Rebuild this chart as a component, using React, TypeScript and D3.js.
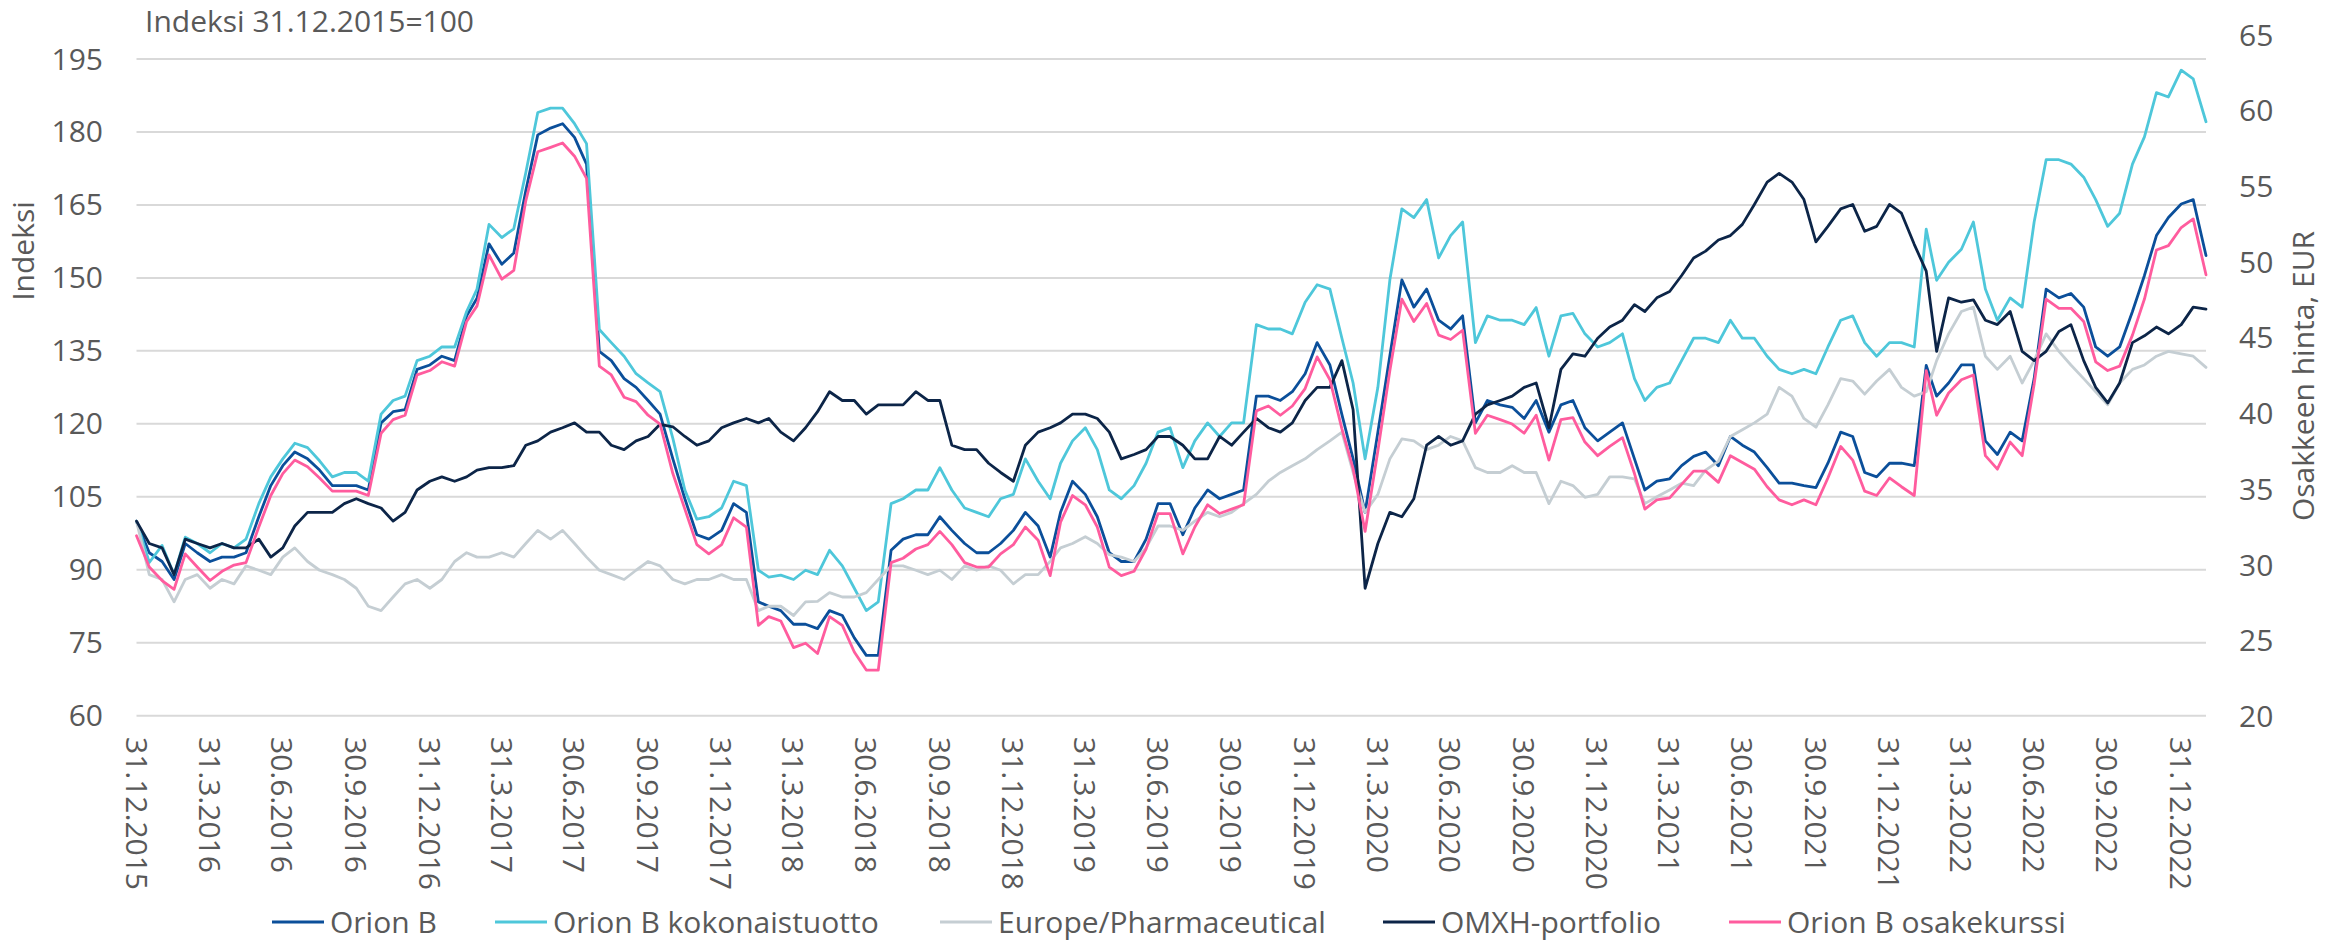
import React from 'react';
import * as d3 from 'd3';

const W = 2348;
const H = 942;

const xTickLabels = [
  '31.12.2015', '31.3.2016', '30.6.2016', '30.9.2016', '31.12.2016',
  '31.3.2017', '30.6.2017', '30.9.2017', '31.12.2017',
  '31.3.2018', '30.6.2018', '30.9.2018', '31.12.2018',
  '31.3.2019', '30.6.2019', '30.9.2019', '31.12.2019',
  '31.3.2020', '30.6.2020', '30.9.2020', '31.12.2020',
  '31.3.2021', '30.6.2021', '30.9.2021', '31.12.2021',
  '31.3.2022', '30.6.2022', '30.9.2022', '31.12.2022',
];
const leftTicks = [60, 75, 90, 105, 120, 135, 150, 165, 180, 195];
const rightTicks = [20, 25, 30, 35, 40, 45, 50, 55, 60, 65];

// Sampling dates: 31.12.2015, then the 1st and 16th of each month up to 1.2.2023
const N = 171;
const dates: Date[] = d3.range(N).map((k) =>
  k === 0 ? new Date(2015, 11, 31) : new Date(2016, Math.floor(k / 2), k % 2 === 0 ? 1 : 16)
);

// Orion B (index, left axis)
const orionB = [
  100, 93.5, 91.7, 88, 95.4, 93.5, 91.7, 92.6, 92.6, 93.5,
  100.9, 107.3, 111.4, 114.2, 112.8, 110.5, 107.3, 107.3, 107.3, 106.4,
  120.2, 122.5, 122.9, 131.2, 132.1, 133.9, 133, 142.2, 145.8, 157,
  152.8, 155.1, 167.9, 179.4, 180.8, 181.7, 178.9, 173.4, 134.9, 133,
  129.3, 127.5, 124.8, 122, 112.8, 104.6, 97.2, 96.3, 98.1, 103.6,
  101.8, 83.4, 82.5, 81.6, 78.8, 78.8, 77.9, 81.6, 80.6, 76,
  72.4, 72.4, 94, 96.3, 97.2, 97.2, 100.9, 98.1, 95.4, 93.5,
  93.5, 95.4, 98.1, 101.8, 99, 92.6, 101.8, 108.2, 105.5, 100.9,
  93.5, 91.7, 91.7, 96.3, 103.6, 103.6, 97.2, 102.7, 106.4, 104.6,
  105.5, 106.4, 125.7, 125.7, 124.8, 126.6, 130.3, 136.7, 132.1, 121.9,
  112.8, 101.8, 118.3, 134, 149.6, 144, 147.7, 141.3, 139.5, 142.2,
  120.2, 124.8, 123.9, 123.4, 121.1, 124.8, 118.3, 123.9, 124.8, 119.2,
  116.5, 118.3, 120.2, 112.8, 106.4, 108.2, 108.7, 111.4, 113.3, 114.2,
  111.4, 117.4, 115.6, 114.2, 111, 107.8, 107.8, 107.3, 106.9, 111.9,
  118.3, 117.4, 110, 109.1, 111.9, 111.9, 111.4, 132, 125.7, 128.4,
  132.1, 132.1, 116.5, 113.7, 118.3, 116.5, 129.3, 147.7, 145.9, 146.8,
  144, 135.8, 133.9, 135.8, 143.1, 150.5, 158.7, 162.4, 165.2, 166.1,
  154.6,
];

// Orion B kokonaistuotto (index, left axis)
const orionTotal = [
  100, 91.5, 95, 89, 96.7, 95.4, 93.5, 95.4, 94.5, 96.3,
  103.6, 109.1, 112.8, 116, 115.1, 112.4, 109.1, 110, 110, 108.2,
  122, 124.8, 125.7, 133, 133.9, 135.8, 135.8, 143.1, 147.7, 161,
  158.3, 160.1, 171.6, 184, 184.9, 184.9, 181.7, 177.6, 139.4, 136.7,
  133.9, 130.3, 128.4, 126.6, 117, 106.4, 100.4, 100.9, 102.7, 108.2,
  107.3, 89.9, 88.5, 88.9, 88, 89.9, 89, 94, 90.8, 86.2,
  81.6, 83.4, 103.6, 104.6, 106.4, 106.4, 111, 106.4, 102.7, 101.8,
  100.9, 104.6, 105.5, 112.8, 108.2, 104.6, 111.9, 116.5, 119.2, 114.7,
  106.4, 104.6, 107.3, 111.9, 118.3, 119.2, 111, 116.5, 120.2, 117.4,
  120.2, 120.2, 140.4, 139.5, 139.5, 138.5, 145, 148.6, 147.7, 137.6,
  128.4, 112.8, 127.5, 149.6, 164.2, 162.4, 166.1, 154.1, 158.7, 161.5,
  136.7, 142.2, 141.3, 141.3, 140.4, 143.9, 133.9, 142.2, 142.7, 138.5,
  135.8, 136.7, 138.5, 129.3, 124.8, 127.5, 128.4, 133, 137.6, 137.6,
  136.7, 141.3, 137.6, 137.6, 133.9, 131.2, 130.3, 131.2, 130.3, 135.8,
  141.3, 142.2, 136.7, 133.9, 136.7, 136.7, 135.8, 160, 149.5, 153.2,
  155.9, 161.5, 147.7, 141.3, 145.9, 144, 161.5, 174.3, 174.3, 173.4,
  170.7, 166.1, 160.6, 163.3, 173.4, 179, 188.1, 187.2, 192.7, 190.9,
  182.1,
];

// Europe/Pharmaceutical (index, left axis)
const europePharma = [
  100, 89, 88, 83.4, 88, 89, 86.2, 88, 87.1, 90.8,
  89.9, 89, 92.6, 94.5, 91.7, 89.9, 89, 88, 86.2, 82.5,
  81.6, 84.4, 87.1, 88, 86.2, 88, 91.7, 93.5, 92.6, 92.6,
  93.5, 92.6, 95.4, 98.1, 96.3, 98.1, 95.4, 92.6, 89.9, 89,
  88, 89.9, 91.7, 90.8, 88, 87.1, 88, 88, 89, 88,
  88, 81.6, 82.5, 82.5, 80.6, 83.4, 83.5, 85.3, 84.4, 84.4,
  85.3, 88, 90.8, 90.8, 89.9, 89, 89.9, 88, 90.8, 89.9,
  90.8, 89.9, 87.1, 89, 89, 91.7, 94.5, 95.4, 96.8, 95.4,
  93.1, 92.6, 91.7, 94.5, 99, 99, 98.1, 100, 101.8, 100.9,
  101.8, 103.6, 105.5, 108.2, 110, 111.4, 112.8, 114.7, 116.5, 118.3,
  110, 101.8, 105.5, 112.8, 116.9, 116.5, 114.7, 115.6, 117.4, 116.5,
  111, 110, 110, 111.4, 110, 110, 103.6, 108.2, 107.3, 104.9,
  105.5, 109.1, 109.1, 108.7, 103.6, 105, 106.4, 107.8, 107.3, 110.5,
  112.3, 117.4, 118.8, 120.2, 122, 127.5, 125.7, 121.1, 119.3, 123.9,
  129.3, 128.8, 126.1, 128.8, 131.2, 127.5, 125.7, 126.6, 133, 138.5,
  143.1, 144, 133.9, 131.2, 133.9, 128.4, 133, 138.5, 134.9, 132.1,
  129.3, 126.6, 123.9, 128.4, 131.2, 132.1, 133.9, 134.9, 134.4, 133.9,
  131.6,
];

// OMXH-portfolio (index, left axis)
const omxh = [
  100, 95.4, 94.5, 89, 96.3, 95.4, 94.5, 95.4, 94.5, 94.5,
  96.3, 92.6, 94.5, 99, 101.8, 101.8, 101.8, 103.6, 104.6, 103.6,
  102.7, 100, 101.8, 106.4, 108.2, 109.1, 108.2, 109.1, 110.5, 111,
  111, 111.4, 115.6, 116.5, 118.3, 119.2, 120.2, 118.3, 118.3, 115.6,
  114.7, 116.5, 117.4, 119.9, 119.4, 117.4, 115.6, 116.5, 119.2, 120.2,
  121.1, 120.2, 121.1, 118.3, 116.5, 119.2, 122.5, 126.6, 124.8, 124.8,
  122, 123.9, 123.9, 123.9, 126.6, 124.8, 124.8, 115.6, 114.7, 114.7,
  111.9, 110, 108.2, 115.6, 118.3, 119.2, 120.2, 122, 122, 121.1,
  118.3, 112.8, 113.7, 114.7, 117.4, 117.4, 115.6, 112.8, 112.8, 117.4,
  115.6, 118.3, 121.1, 119.2, 118.3, 120.2, 124.8, 127.5, 127.5, 133,
  122.9, 86.2, 95.4, 101.8, 100.9, 104.6, 115.6, 117.4, 115.6, 116.5,
  122, 123.9, 124.8, 125.7, 127.5, 128.4, 119.2, 131.2, 134.4, 133.9,
  137.6, 139.9, 141.3, 144.5, 143.1, 145.9, 147.2, 150.5, 154.1, 155.5,
  157.8, 158.7, 161, 165.1, 169.7, 171.5, 169.7, 166.1, 157.4, 160.6,
  164.2, 165.1, 159.6, 160.6, 165.1, 163.3, 156.9, 151.4, 134.9, 145.9,
  145, 145.5, 141.3, 140.4, 143.1, 134.9, 133, 134.9, 139, 140.4,
  133, 127.5, 124.3, 128.4, 136.7, 138.1, 139.9, 138.5, 140.4, 144,
  143.6,
];

// Orion B osakekurssi (EUR, right axis)
const orionPrice = [
  31.94, 29.88, 28.99, 28.41, 30.75, 29.88, 28.99, 29.6, 30.01, 30.17,
  32.52, 34.6, 36.05, 36.94, 36.5, 35.76, 34.89, 34.89, 34.89, 34.6,
  38.71, 39.61, 39.9, 42.56, 42.85, 43.43, 43.14, 46.09, 47.12, 50.49,
  48.88, 49.46, 54.05, 57.29, 57.58, 57.87, 57.0, 55.53, 43.14, 42.56,
  41.09, 40.8, 39.9, 39.32, 36.05, 33.7, 31.36, 30.75, 31.36, 33.13,
  32.52, 26.03, 26.61, 26.32, 24.56, 24.85, 24.17, 26.61, 26.03, 24.27,
  23.08, 23.08, 30.17, 30.46, 31.07, 31.36, 32.23, 31.36, 30.17, 29.88,
  29.88, 30.75, 31.36, 32.52, 31.65, 29.31, 32.84, 34.6, 33.99, 32.52,
  29.88, 29.31, 29.6, 31.07, 33.41, 33.41, 30.75, 32.52, 33.99, 33.41,
  33.7, 33.99, 40.19, 40.51, 39.9, 40.51, 41.66, 43.75, 42.24, 39.0,
  36.37, 32.23, 37.56, 42.85, 47.57, 46.09, 47.28, 45.19, 44.9, 45.51,
  38.71, 39.9, 39.61, 39.32, 38.71, 39.9, 36.94, 39.61, 39.74, 38.13,
  37.23, 37.84, 38.42, 36.05, 33.7, 34.31, 34.44, 35.34, 36.21, 36.21,
  35.47, 37.23, 36.78, 36.34, 35.18, 34.31, 33.99, 34.31, 33.99, 35.76,
  37.84, 36.94, 34.89, 34.6, 35.76, 35.18, 34.6, 42.85, 39.9, 41.37,
  42.24, 42.56, 37.23, 36.34, 38.13, 37.23, 41.95, 47.57, 46.96, 46.96,
  46.09, 43.43, 42.85, 43.14, 45.19, 47.57, 50.81, 51.1, 52.29, 52.86,
  49.17,
];

const seriesNames = [
  'Orion B',
  'Orion B kokonaistuotto',
  'Europe/Pharmaceutical',
  'OMXH-portfolio',
  'Orion B osakekurssi',
];
const seriesColors = ['#0b4f9a', '#4ec7da', '#c5ced3', '#0c2548', '#ff5c9e'];

const FONT = "'Open Sans', 'Noto Sans', sans-serif";
const TEXT = '#595959';

function parseDMY(s: string): Date {
  const [d, m, y] = s.split('.').map(Number);
  return new Date(y, m - 1, d);
}

export default function App() {
  const plotLeft = 136.5;
  const plotRight = 2206;
  const x = d3
    .scaleTime()
    .domain([new Date(2015, 11, 31), new Date(2023, 1, 1)])
    .range([plotLeft, plotRight]);
  const yL = d3.scaleLinear().domain([60, 195]).range([715.7, 59]);
  const yR = d3.scaleLinear().domain([20, 65]).range([716.7, 35]);

  const mk = (vals: number[], scale: d3.ScaleLinear<number, number>) =>
    d3
      .line<number>()
      .x((_, i) => x(dates[i]))
      .y((v) => scale(v))(vals) || '';

  const paths = [
    mk(orionB, yL),
    mk(orionTotal, yL),
    mk(europePharma, yL),
    mk(omxh, yL),
    mk(orionPrice, yR),
  ];

  const legendX = [272, 495, 940, 1383, 1729];
  const legendY = 922;

  return (
    <svg
      width={W}
      height={H}
      style={{ position: 'absolute', left: 0, top: 0, display: 'block', background: '#fff' }}
      fontFamily={FONT}
    >
      {leftTicks.map((t) => (
        <line
          key={'g' + t}
          x1={plotLeft}
          x2={plotRight}
          y1={yL(t)}
          y2={yL(t)}
          stroke="#d9d9d9"
          strokeWidth={2}
        />
      ))}
      {leftTicks.map((t) => (
        <text key={'l' + t} x={103} y={yL(t)} dy="0.35em" textAnchor="end" fontSize={30} fill={TEXT}>
          {t}
        </text>
      ))}
      {rightTicks.map((t) => (
        <text key={'r' + t} x={2239} y={yR(t)} dy="0.35em" textAnchor="start" fontSize={30} fill={TEXT}>
          {t}
        </text>
      ))}
      {xTickLabels.map((s) => (
        <text
          key={'x' + s}
          transform={`translate(${x(parseDMY(s))},737) rotate(90)`}
          dy="0.35em"
          textAnchor="start"
          fontSize={30}
          fill={TEXT}
        >
          {s}
        </text>
      ))}
      <text x={145} y={32} fontSize={30} fill={TEXT}>
        Indeksi 31.12.2015=100
      </text>
      <text transform="translate(23,251) rotate(-90)" dy="0.35em" textAnchor="middle" fontSize={30} fill={TEXT}>
        Indeksi
      </text>
      <text transform="translate(2303,376) rotate(-90)" dy="0.35em" textAnchor="middle" fontSize={30} fill={TEXT}>
        Osakkeen hinta, EUR
      </text>
      {paths.map((p, i) => (
        <path
          key={'p' + i}
          d={p}
          fill="none"
          stroke={seriesColors[i]}
          strokeWidth={2.8}
          strokeLinejoin="round"
          strokeLinecap="round"
        />
      ))}
      {seriesNames.map((n, i) => (
        <g key={'lg' + i}>
          <line
            x1={legendX[i]}
            x2={legendX[i] + 52}
            y1={legendY}
            y2={legendY}
            stroke={seriesColors[i]}
            strokeWidth={3}
          />
          <text x={legendX[i] + 58} y={legendY} dy="0.35em" fontSize={30} fill={TEXT}>
            {n}
          </text>
        </g>
      ))}
    </svg>
  );
}
